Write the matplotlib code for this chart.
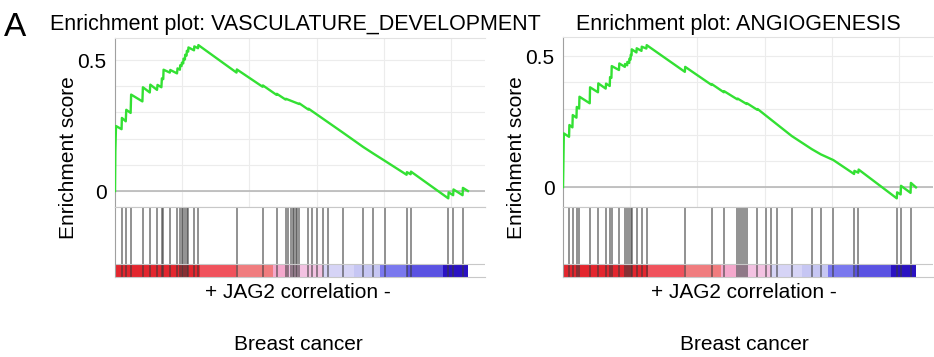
import numpy as np
import matplotlib.pyplot as plt
from matplotlib.patches import Rectangle

plt.rcParams['font.family'] = ['Liberation Sans', 'DejaVu Sans']

# VASCULATURE_DEVELOPMENT running enrichment score (rank, ES)
vd_rank = [0, 20, 60, 390, 410, 640, 670, 930, 960, 1630, 1660, 2070, 2100, 2500, 2530,
           2760, 2790, 2870, 2890, 3260, 3290, 3690, 3720, 3860, 3880, 3960, 3980, 4060,
           4075, 4160, 4175, 4260, 4275, 4355, 4370, 4700, 4720, 4940, 4960, 7230, 7250,
           8780, 8800, 9610, 9630, 10150, 10170, 10960, 10980, 11500, 11520, 13580, 14770,
           15370, 16060, 17350, 17370, 17590, 17610, 19830, 19850, 20120, 20140, 20680,
           20700, 21000]
vd_es = [0.0, 0.15, 0.248, 0.236, 0.279, 0.266, 0.31, 0.298, 0.368, 0.342, 0.396, 0.376,
         0.406, 0.386, 0.405, 0.396, 0.43, 0.427, 0.463, 0.452, 0.462, 0.449, 0.468, 0.463,
         0.48, 0.477, 0.49, 0.487, 0.505, 0.502, 0.52, 0.517, 0.535, 0.532, 0.548, 0.537,
         0.552, 0.545, 0.557, 0.452, 0.464, 0.398, 0.403, 0.367, 0.371, 0.349, 0.352, 0.332,
         0.334, 0.311, 0.314, 0.222, 0.168, 0.143, 0.115, 0.062, 0.072, 0.064, 0.074,
         -0.028, -0.005, -0.016, 0.006, -0.016, 0.012, 0.0]
vd_hits = [0, 399, 655, 934, 1648, 2083, 2517, 2779, 2874, 3273, 3707, 3868, 3969, 4064,
           4165, 4266, 4361, 4718, 4956, 7241, 8788, 9621, 10157, 10311, 10454, 10573,
           10651, 10752, 10847, 10966, 11501, 11739, 12037, 12394, 12691, 13584, 14774,
           15369, 16065, 17356, 17594, 19831, 20129, 20688]

# ANGIOGENESIS running enrichment score
ang_rank = [0, 20, 50, 360, 380, 560, 580, 800, 820, 960, 980, 1590, 1610, 2080, 2100,
            2540, 2560, 2780, 2800, 2880, 2900, 3330, 3350, 3680, 3690, 3820, 3830, 3940,
            3950, 4020, 4030, 4080, 4090, 4370, 4385, 4670, 4685, 4960, 4980, 7250, 7270,
            8840, 8860, 9570, 9590, 10370, 10390, 10930, 10950, 11560, 11580, 13610, 14800,
            15340, 16090, 17320, 17340, 17570, 17590, 19860, 19880, 20090, 20110, 20680,
            20700, 21000]
ang_es = [0.0, 0.08, 0.205, 0.192, 0.237, 0.228, 0.275, 0.265, 0.306, 0.30, 0.345, 0.32,
          0.381, 0.362, 0.396, 0.376, 0.395, 0.386, 0.42, 0.417, 0.462, 0.447, 0.472, 0.459,
          0.47, 0.465, 0.478, 0.474, 0.49, 0.487, 0.505, 0.503, 0.526, 0.514, 0.53, 0.52,
          0.536, 0.529, 0.542, 0.44, 0.459, 0.39, 0.393, 0.362, 0.366, 0.335, 0.338, 0.317,
          0.32, 0.295, 0.298, 0.195, 0.145, 0.125, 0.103, 0.05, 0.062, 0.055, 0.067,
          -0.043, -0.02, -0.028, 0.005, -0.022, 0.016, -0.001]
ang_hits = [0, 375, 577, 815, 970, 1606, 2100, 2558, 2796, 2897, 3349, 3689, 3826, 3945,
            4028, 4088, 4385, 4683, 4980, 7259, 8847, 9580, 10373, 10492, 10575, 10694,
            10831, 10932, 11563, 12080, 12360, 12717, 13610, 14800, 15335, 16088, 17320,
            17576, 19860, 20098, 20693]

# ranked list heat bar (segment edges in rank, colours)
bar_edges = [0, 5030, 7200, 9430, 10300, 12400, 14220, 15740, 17374, 19490, 21000]
bar_colors = ['#e3262e', '#f0525c', '#f07c7e', '#f4a8cc', '#f3c2e2', '#d6d4f6',
              '#c6c6f3', '#7a78ee', '#5a52e2', '#2a12c2']

W, H = 934, 357
XMAX = 22015
fig = plt.figure(figsize=(W / 100, H / 100), dpi=100)


def panel(x0, top, title, title_x, rank, es, hits, ylim, lab_x):
    L = x0 / W
    w = 370 / W
    ax = fig.add_axes([L, 1 - 207 / H, w, (207 - top) / H])
    ax.plot(rank, es, color='#33e033', lw=1.7, zorder=3)
    ax.set_xlim(0, XMAX)
    ax.set_ylim(ylim)
    ax.set_xticks(np.arange(4000, 21000, 4000))
    ax.set_xticklabels([])
    ax.set_yticks([0, 0.5])
    ax.set_yticklabels(['0', '0.5'])
    ax.set_yticks(np.arange(0.1, 0.55, 0.1), minor=True)
    ax.grid(True, which='both', color='#ececec', lw=0.8)
    ax.axhline(0, color='#b8b8b8', lw=1.2, zorder=2)
    ax.tick_params(which='both', length=0, labelsize=15, pad=6)
    ax.spines['left'].set_color('#a0a0a0')
    ax.spines['top'].set_color('#e2e2e2')
    ax.spines['bottom'].set_color('#c8c8c8')
    ax.spines['right'].set_visible(False)

    hx = fig.add_axes([L, 1 - 277 / H, w, 70 / H])
    hx.set_xlim(0, XMAX)
    hx.set_ylim(0, 1)
    btop = 13 / 70
    for i in range(len(bar_colors)):
        hx.add_patch(Rectangle((bar_edges[i], 0), bar_edges[i + 1] - bar_edges[i], btop,
                               color=bar_colors[i], lw=0))
    hx.vlines(hits, 0, 1, color='#3a3a3a', alpha=0.7, lw=1.1)
    hx.axhline(btop, color='#c8c8c8', lw=0.8)
    hx.set_xticks([])
    hx.set_yticks([])
    hx.spines['left'].set_color('#a0a0a0')
    hx.spines['top'].set_color('#c8c8c8')
    hx.spines['bottom'].set_color('#c8c8c8')
    hx.spines['right'].set_visible(False)

    fig.text(title_x / W, 1 - 30 / H, title, fontsize=15.5, va='baseline')
    fig.text((x0 - 47) / W, 1 - 157.5 / H, 'Enrichment score', rotation=90,
             ha='center', va='center', fontsize=15)
    fig.text(lab_x / W, 1 - 292 / H, '+ JAG2 correlation -', ha='center',
             va='center', fontsize=15)
    fig.text(lab_x / W, 1 - 345 / H, 'Breast cancer', ha='center', va='center',
             fontsize=15)


panel(115, 38, 'Enrichment plot: VASCULATURE_DEVELOPMENT', 50, vd_rank, vd_es, vd_hits,
      (-0.061, 0.584), 298)
panel(563, 37, 'Enrichment plot: ANGIOGENESIS', 576, ang_rank, ang_es, ang_hits,
      (-0.076, 0.573), 744)

fig.text(4 / W, 1 - 36 / H, 'A', fontsize=24, va='baseline')

fig.savefig('out.png', dpi=100)
